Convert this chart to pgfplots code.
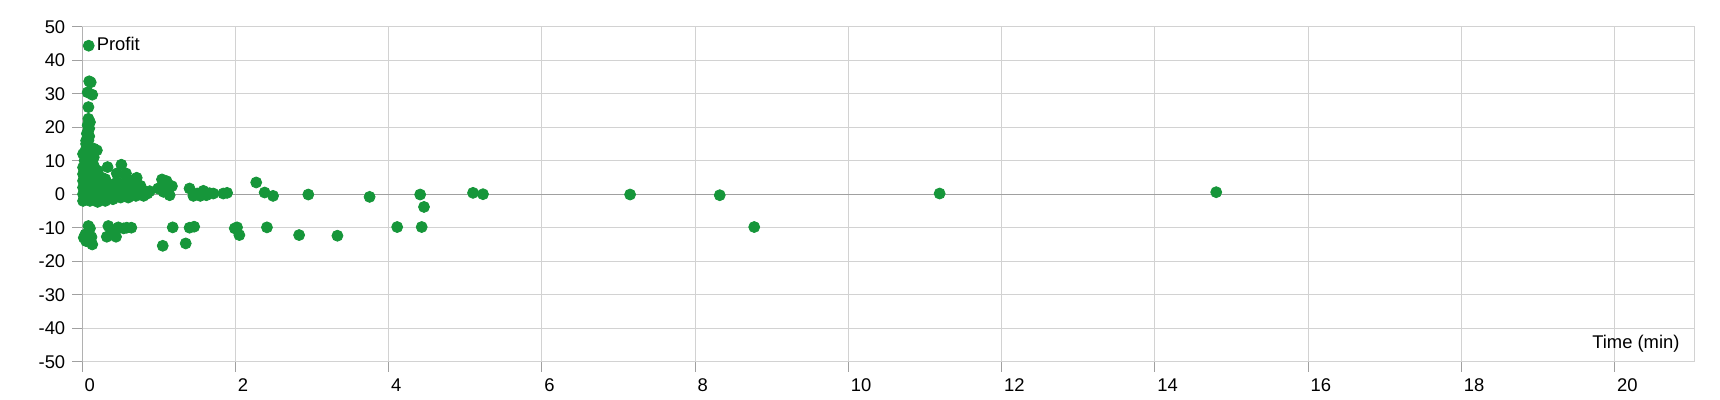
\documentclass[border=0pt]{standalone}
\usepackage{fontspec}
\setmainfont{Liberation Sans}
\usepackage{pgfplots}
\pgfplotsset{compat=1.18}
\definecolor{profitgreen}{RGB}{22,150,58}
\definecolor{gridgray}{RGB}{210,210,210}
\definecolor{axisgray}{RGB}{160,160,160}
\newcommand{\chartfont}{\fontsize{9.2}{11}\selectfont}

\begin{document}
\begin{tikzpicture}
\begin{axis}[
  scale only axis,
  width=806pt, height=167.5pt,
  xmin=0, xmax=21.04, ymin=-50, ymax=50,
  xtick={0,2,...,20},
  ytick={-50,-40,...,50},
  grid=major,
  grid style={gridgray, line width=0.5pt},
  axis line style={gridgray, line width=0.5pt},
  tick align=outside,
  major tick length=5pt,
  tick style={axisgray, line width=0.5pt},
  tick pos=left,
  /pgf/number format/assume math mode=true,
  ticklabel style={font=\chartfont, text=black},
  xticklabel style={anchor=north west, inner xsep=1pt},
  legend style={at={(rel axis cs:0,1)}, anchor=west, xshift=0.25pt, yshift=-9.5pt,
    draw=none, fill=none, inner sep=0pt, column sep=1.3pt,
    nodes={inner sep=0pt, font=\chartfont, text=black}},
  legend image code/.code={\draw[#1] plot coordinates {(0pt,0pt)};},
]
\coordinate (sw) at (rel axis cs:0,0);
\draw[axisgray, line width=0.5pt] (axis cs:0,-50) -- (axis cs:0,50);
\draw[axisgray, line width=0.5pt] (axis cs:0,0) -- (axis cs:21.04,0);

\addplot[only marks, mark=*, mark size=2.75pt, color=profitgreen,
  mark options={draw=profitgreen, fill=profitgreen}]
coordinates {
% tall column near zero
(0.09,33.7) (0.11,33.4) (0.07,30.4) (0.13,29.7) (0.08,26.0)
(0.08,22.5) (0.10,21.5) (0.07,20.6) (0.09,19.6) (0.06,18.1)
(0.09,17.3) (0.08,16.1) (0.05,15.0) (0.07,14.2) (0.15,13.6)
(0.19,13.1) (0.04,13.0) (0.10,12.0) (0.06,11.0) (0.12,10.5)
(0.03,10.0) (0.09,9.3)
% dense block
(0.01,-2) (0.01,0) (0.01,2) (0.01,4) (0.01,6) (0.01,8) (0.01,12)
(0.05,-1.5) (0.05,0.5) (0.05,2.5) (0.05,4.5) (0.05,6.5) (0.05,8.5) (0.05,10.5) (0.05,12.5) (0.05,16)
(0.10,-2) (0.10,0) (0.10,2) (0.10,4) (0.10,6) (0.10,8) (0.10,10)
(0.15,-1.5) (0.15,0.5) (0.15,2.5) (0.15,4.5) (0.15,6.5) (0.15,8.5) (0.15,11)
(0.20,-2.3) (0.20,-0.5) (0.20,1.5) (0.20,3.5) (0.20,5.5) (0.20,7)
(0.25,-1) (0.25,1) (0.25,3) (0.25,5)
(0.30,-2) (0.30,0) (0.30,2) (0.30,4.5)
(0.35,-1) (0.35,1) (0.35,3)
(0.40,-1.5) (0.40,0.5) (0.40,2.5)
(0.45,-0.5) (0.45,1.5) (0.45,3.5)
(0.50,-1) (0.50,1) (0.50,3)
(0.55,0) (0.55,2)
(0.60,-1) (0.60,1) (0.60,3)
(0.65,0) (0.65,2) (0.65,4)
(0.70,-0.5) (0.70,1.5) (0.70,3)
(0.76,0.5) (0.76,2.5)
(0.80,-0.5) (0.80,1) (0.85,0.2) (0.88,0.9)
(0.33,8.1) (0.51,8.8) (0.45,6.2) (0.57,6.2) (0.57,5.2) (0.71,4.9)
% between 1 and 2
(1.04,4.4) (1.10,3.9) (0.99,1.7) (1.17,2.4) (1.06,0.7) (1.14,-0.3)
(1.12,1.5) (1.08,2.8)
(1.40,1.7) (1.45,-0.5) (1.50,0.2) (1.54,-0.5) (1.58,1.0) (1.62,-0.3)
(1.66,0.3) (1.71,0.2) (1.84,0.2) (1.89,0.4)
% sparse tail
(2.27,3.5) (2.38,0.5) (2.49,-0.5) (2.95,-0.1) (3.75,-0.8)
(4.41,-0.1) (4.46,-3.8) (5.10,0.4) (5.23,0.0) (7.15,-0.1)
(8.32,-0.3) (11.19,0.2) (14.80,0.6)
% losses
(0.08,-9.5) (0.10,-10.2) (0.04,-12.0) (0.02,-13.0) (0.07,-12.0)
(0.12,-12.8) (0.09,-13.8) (0.13,-15.0) (0.05,-14.0) (0.06,-12.7)
(0.34,-9.5) (0.47,-9.9) (0.64,-10.0) (0.54,-10.2) (0.32,-12.7)
(0.44,-12.7) (0.38,-11.5) (0.58,-10.0)
(1.05,-15.4) (1.18,-9.9) (1.35,-14.7) (1.40,-10.0) (1.46,-9.7)
(2.02,-9.9) (1.99,-10.2) (2.05,-12.2) (2.41,-9.9) (2.83,-12.2)
(3.33,-12.4) (4.11,-9.8) (4.43,-9.8) (8.77,-9.8)
};
\addlegendentry{Profit}

\node[anchor=base east, xshift=-7.2pt, yshift=6.7pt, inner sep=0pt,
  font=\chartfont, text=black] at (rel axis cs:1,0) {Time (min)};
\end{axis}
\path (sw) ++(-41.15pt,-19.15pt) rectangle ++(860pt,200pt);
\end{tikzpicture}
\end{document}
